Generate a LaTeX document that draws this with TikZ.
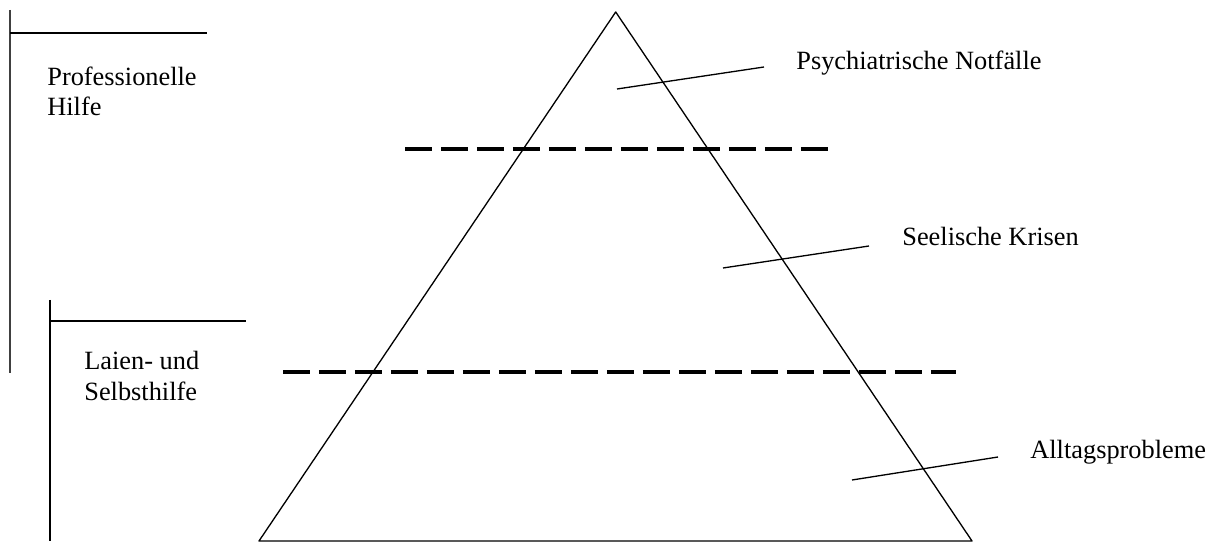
\documentclass[tikz,border=0pt]{standalone}
\usepackage{fontspec}
\setmainfont{Liberation Serif}
\begin{document}
\begin{tikzpicture}[x=0.02cm, y=-0.02cm, line join=round, font=\fontsize{15}{17.6}\selectfont]
		\tikzset{
			pyr/.style={line width=0.75pt},
			trenn/.style={line width=2pt, dash pattern=on 0.54cm off 0.18cm},
			leit/.style={line width=0.75pt},
			klammer/.style={line width=0.6pt},
			lbl/.style={inner sep=0pt, anchor=base west, align=left}
		}
		\useasboundingbox (0,0) rectangle (1212,543);
		% Eckpunkte der Pyramide
		\path (615.7,12) coordinate (S)
		(259,541) coordinate (A)
		(972,541) coordinate (B);
		% ==================== PYRAMIDE ====================
		\draw[pyr] (A) -- (S) -- (B) -- cycle;
		% ==================== TRENNLINIEN ====================
		\path (405,149) coordinate (T1) (829,149) coordinate (T2)
		(283,372) coordinate (U1) (956,372) coordinate (U2);
		\draw[trenn] (T1) -- (T2);
		\draw[trenn] (U1) -- (U2);
		% ==================== EBENEN ====================
		\path (617,89) coordinate (n1) (764,67) coordinate (n2)
		(723,268) coordinate (k1) (869,246) coordinate (k2)
		(852,480) coordinate (a1) (998,457) coordinate (a2);
		\node[lbl] (notfall) at (796,70) {Psychiatrische Notfälle};
		\node[lbl] (krise) at (902,246) {Seelische Krisen};
		\node[lbl] (alltag) at (1030,458) {Alltagsprobleme};
		\foreach \p/\q in {n1/n2, k1/k2, a1/a2}
		\draw[leit] (\p) -- (\q);
		% ==================== HILFE ====================
		\path (10,10) coordinate (P1) (10,373) coordinate (P2)
		(10,33) coordinate (P3) (207,33) coordinate (P4)
		(50,300) coordinate (L1) (50,541) coordinate (L2)
		(50,321) coordinate (L3) (246,321) coordinate (L4);
		\draw[klammer, black!75] (P1) -- (P2);
		\draw[klammer] (P3) -- (P4);
		\draw[klammer] (L1) -- (L2);
		\draw[klammer] (L3) -- (L4);
		% Grundlinie der letzten Zeile
		\node[lbl] (prof) at (47,116) {Professionelle\\Hilfe};
		\node[lbl] (laien) at (84,400) {Laien- und\\Selbsthilfe};
	\end{tikzpicture}
\end{document}
